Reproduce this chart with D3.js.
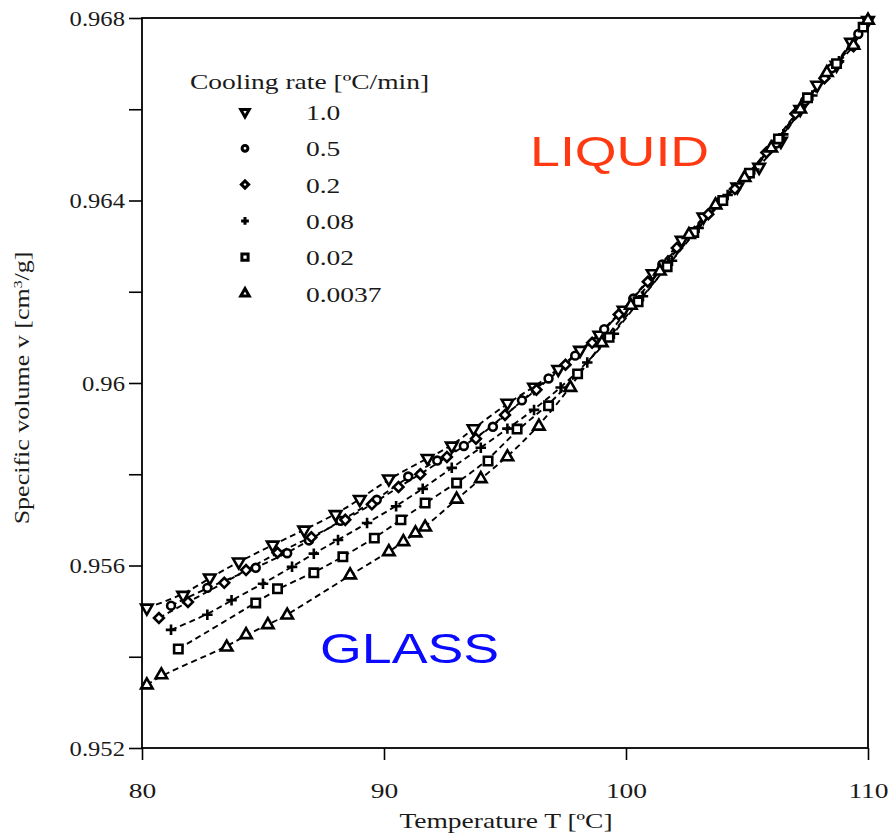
<!DOCTYPE html>
<html>
<head>
<meta charset="utf-8">
<script src="https://cdn.jsdelivr.net/npm/d3@7/dist/d3.min.js"></script>
<style>
  body { margin: 0; background: #fff; }
  svg { display: block; }
</style>
</head>
<body>
<div id="chart"></div>
<script>
// cooling rates [ºC/min] and their marker shapes
const rates = ['1.0', '0.5', '0.2', '0.08', '0.02', '0.0037'];
const shapes = ['tdown', 'circle', 'diamond', 'plus', 'square', 'tup'];

// temperature [ºC] / specific volume [cm3/g]
const t10 = [80.2, 81.7, 82.8, 84.0, 85.4, 86.7, 88.0, 89.0, 90.2, 91.8, 92.8, 93.7, 95.1, 96.2, 97.2, 98.1, 98.9, 99.9, 101.1, 102.3, 103.2, 104.6, 105.5, 106.4, 107.2, 107.9, 108.7, 109.3, 110.0];
const v10 = [.95507, .95535, .95573, .95608, .95645, .95678, .95712, .95745, .95790, .95835, .95862, .95900, .95956, .95991, .96030, .96072, .96105, .96160, .96240, .96313, .96364, .96430, .96473, .96530, .96600, .96653, .96697, .96747, .96795];

const t05 = [81.2, 82.7, 84.7, 86.0, 86.9, 88.2, 89.7, 91.0, 92.2, 93.3, 94.5, 95.7, 96.8, 97.9, 99.1, 100.3, 101.5, 102.7, 103.9, 105.0, 106.2, 107.4, 108.5, 109.6];
const v05 = [.95512, .95551, .95595, .95627, .95655, .95698, .95744, .95795, .95830, .95862, .95904, .95962, .96010, .96060, .96118, .96185, .96260, .96330, .96398, .96455, .96525, .96618, .96690, .96765];

const t02 = [80.7, 81.9, 83.4, 84.3, 85.6, 87.0, 88.4, 89.5, 90.6, 91.5, 92.6, 93.8, 95.0, 96.3, 97.5, 98.6, 99.7, 100.9, 102.1, 103.4, 104.5, 105.8, 107.0, 108.2, 109.4];
const v02 = [.95485, .95520, .95562, .95590, .95628, .95662, .95700, .95734, .95772, .95800, .95838, .95878, .95930, .95985, .96040, .96088, .96150, .96222, .96296, .96370, .96425, .96505, .96590, .96668, .96738];

const t008 = [81.2, 82.7, 83.7, 85.0, 86.2, 87.1, 88.1, 89.3, 90.5, 91.6, 92.8, 94.0, 95.1, 96.2, 97.3, 98.4, 99.5, 100.7, 101.9, 103.0, 104.2, 105.3, 106.5, 107.7, 108.8, 110.0];
const v008 = [.95459, .95492, .95524, .95560, .95597, .95626, .95656, .95693, .95730, .95768, .95814, .95858, .95900, .95941, .95990, .96045, .96108, .96190, .96268, .96340, .96412, .96468, .96545, .96630, .96705, .96795];

const t002 = [81.5, 84.7, 85.6, 87.1, 88.3, 89.6, 90.7, 91.7, 93.0, 94.3, 95.5, 96.8, 98.0, 99.3, 100.5, 101.7, 102.8, 104.0, 105.1, 106.3, 107.5, 108.7, 109.8];
const v002 = [.95417, .95518, .95549, .95584, .95619, .95660, .95700, .95737, .95781, .95829, .95899, .95950, .96020, .96100, .96178, .96255, .96330, .96400, .96460, .96535, .96625, .96700, .96780];

const t0037 = [80.2, 80.8, 83.5, 84.3, 85.2, 86.0, 88.6, 90.2, 90.8, 91.3, 91.7, 93.0, 94.0, 95.1, 96.4, 97.7, 99.0, 100.2, 101.4, 102.6, 103.7, 104.9, 106.0, 107.2, 108.3, 109.4, 110.0];
const v0037 = [.95338, .95360, .95421, .95448, .95470, .95491, .95579, .95630, .95652, .95671, .95684, .95745, .95790, .95838, .95905, .95990, .96088, .96170, .96245, .96325, .96390, .96450, .96515, .96600, .96680, .96740, .96795];

const temps = [t10, t05, t02, t008, t002, t0037];
const vols = [v10, v05, v02, v008, v002, v0037];

// axis ticks
const xTicks = [80, 90, 100, 110];
const yTicks = [0.952, 0.954, 0.956, 0.958, 0.96, 0.962, 0.964, 0.966, 0.968];
const yLabels = [0.952, 0.956, 0.96, 0.964, 0.968];

const width = 892, height = 835;
const margin = { top: 18, right: 24, bottom: 87, left: 142 };
const chartWidth = width - margin.left - margin.right;
const chartHeight = height - margin.top - margin.bottom;
const sx = 1.25; // picture is stretched sideways
const serif = '"Liberation Serif", "Times New Roman", serif';
const sans = '"Liberation Sans", Arial, sans-serif';
const ink = '#1a1a1a';

const svg = d3.select('#chart').append('svg').attr('width', width).attr('height', height);
const chart = svg.append('g').attr('transform', `translate(${margin.left},${margin.top})`);

const x = d3.scaleLinear().domain([80, 110]).range([0, chartWidth]);
const y = d3.scaleLinear().domain([0.952, 0.968]).range([chartHeight, 0]);

// frame
chart.append('rect')
  .attr('width', chartWidth).attr('height', chartHeight)
  .attr('fill', 'none').attr('stroke', '#000').attr('stroke-width', 1.8);

// axes
const yAxis = chart.append('g')
  .call(d3.axisLeft(y).tickValues(yTicks).tickSize(13).tickPadding(10)
    .tickFormat(d => yLabels.some(l => Math.abs(l - d) < 1e-9) ? d3.format('')(+d.toFixed(3)) : ''));
const xAxis = chart.append('g').attr('transform', `translate(0,${chartHeight})`)
  .call(d3.axisBottom(x).tickValues(xTicks).tickSize(12).tickPadding(22).tickFormat(d3.format('d')));

[yAxis, xAxis].forEach(a => {
  a.select('.domain').remove();
  a.selectAll('line').attr('stroke', '#000').attr('stroke-width', 1.6);
  a.selectAll('text').attr('font-family', serif).attr('font-size', 22).attr('fill', ink);
});
const syl = 1.12;
yAxis.selectAll('text').attr('x', -17 / syl).attr('transform', `scale(${syl},1)`);
xAxis.selectAll('text').attr('transform', `scale(${sx},1)`);

// stretched text helper
const label = (str, px, py, opts = {}) => svg.append('text')
  .attr('transform', `translate(${px},${py}) scale(${opts.sx || sx},${opts.sy || 1})` + (opts.rotate ? ` rotate(${opts.rotate})` : ''))
  .attr('font-family', opts.font || serif)
  .attr('font-size', opts.size || 22)
  .attr('fill', opts.color || ink)
  .attr('text-anchor', opts.anchor || 'start')
  .text(str);

label('Temperature T [ºC]', 506, 828, { anchor: 'middle' });
const yt = label('Specific volume v [cm', 29, 388, { anchor: 'middle', rotate: -90, size: 20, sx: 1, sy: 1.3 });
yt.append('tspan').attr('font-size', 12).attr('dy', -7).text('3');
yt.append('tspan').attr('dy', 7).text('/g]');

label('LIQUID', 530, 166, { font: sans, size: 43, color: '#ff3a12' });
label('GLASS', 320, 663, { font: sans, size: 43, color: '#0a0aff' });

// markers
const symbolPath = (shape, k) => ({
  tdown: d3.symbol(d3.symbolTriangle, 52 * k)(),
  circle: d3.symbol(d3.symbolCircle, 44 * k)(),
  diamond: d3.symbol(d3.symbolSquare, 44 * k)(),
  plus: `M${-5 * Math.sqrt(k)},0H${5 * Math.sqrt(k)}M0,${-5 * Math.sqrt(k)}V${5 * Math.sqrt(k)}`,
  square: d3.symbol(d3.symbolSquare, 64 * k)(),
  tup: d3.symbol(d3.symbolTriangle, 52 * k)()
})[shape];
const symbolRotate = { tdown: 180, diamond: 45 };
const drawMarker = (g, shape, px, py, k = 1.1, sw = 2.6) => g.append('path')
  .attr('d', symbolPath(shape, k))
  .attr('transform', `translate(${px},${py}) rotate(${symbolRotate[shape] || 0})`)
  .attr('fill', shape === 'plus' ? 'none' : '#fff')
  .attr('stroke', '#000').attr('stroke-width', sw);

const line = d3.line().x(d => x(d[0])).y(d => y(d[1])).curve(d3.curveBasis);

const series = rates.map((r, i) => ({
  rate: r, shape: shapes[i],
  points: temps[i].map((t, j) => [t, vols[i][j]])
}));

const plot = chart.append('g');
series.forEach(s => {
  plot.append('path').datum(s.points)
    .attr('d', line).attr('fill', 'none')
    .attr('stroke', '#000').attr('stroke-width', 1.9).attr('stroke-dasharray', '6,4');
});
series.forEach(s => {
  const g = plot.append('g');
  s.points.forEach(p => drawMarker(g, s.shape, x(p[0]), y(p[1])));
});

// legend
const legend = svg.append('g');
label('Cooling rate [ºC/min]', 190, 89);
series.forEach((s, i) => {
  const cy = 112 + i * 36.3;
  drawMarker(legend, s.shape, 245, cy, 0.6, 3);
  label(s.rate, 306, cy + 8);
});
</script>
</body>
</html>
